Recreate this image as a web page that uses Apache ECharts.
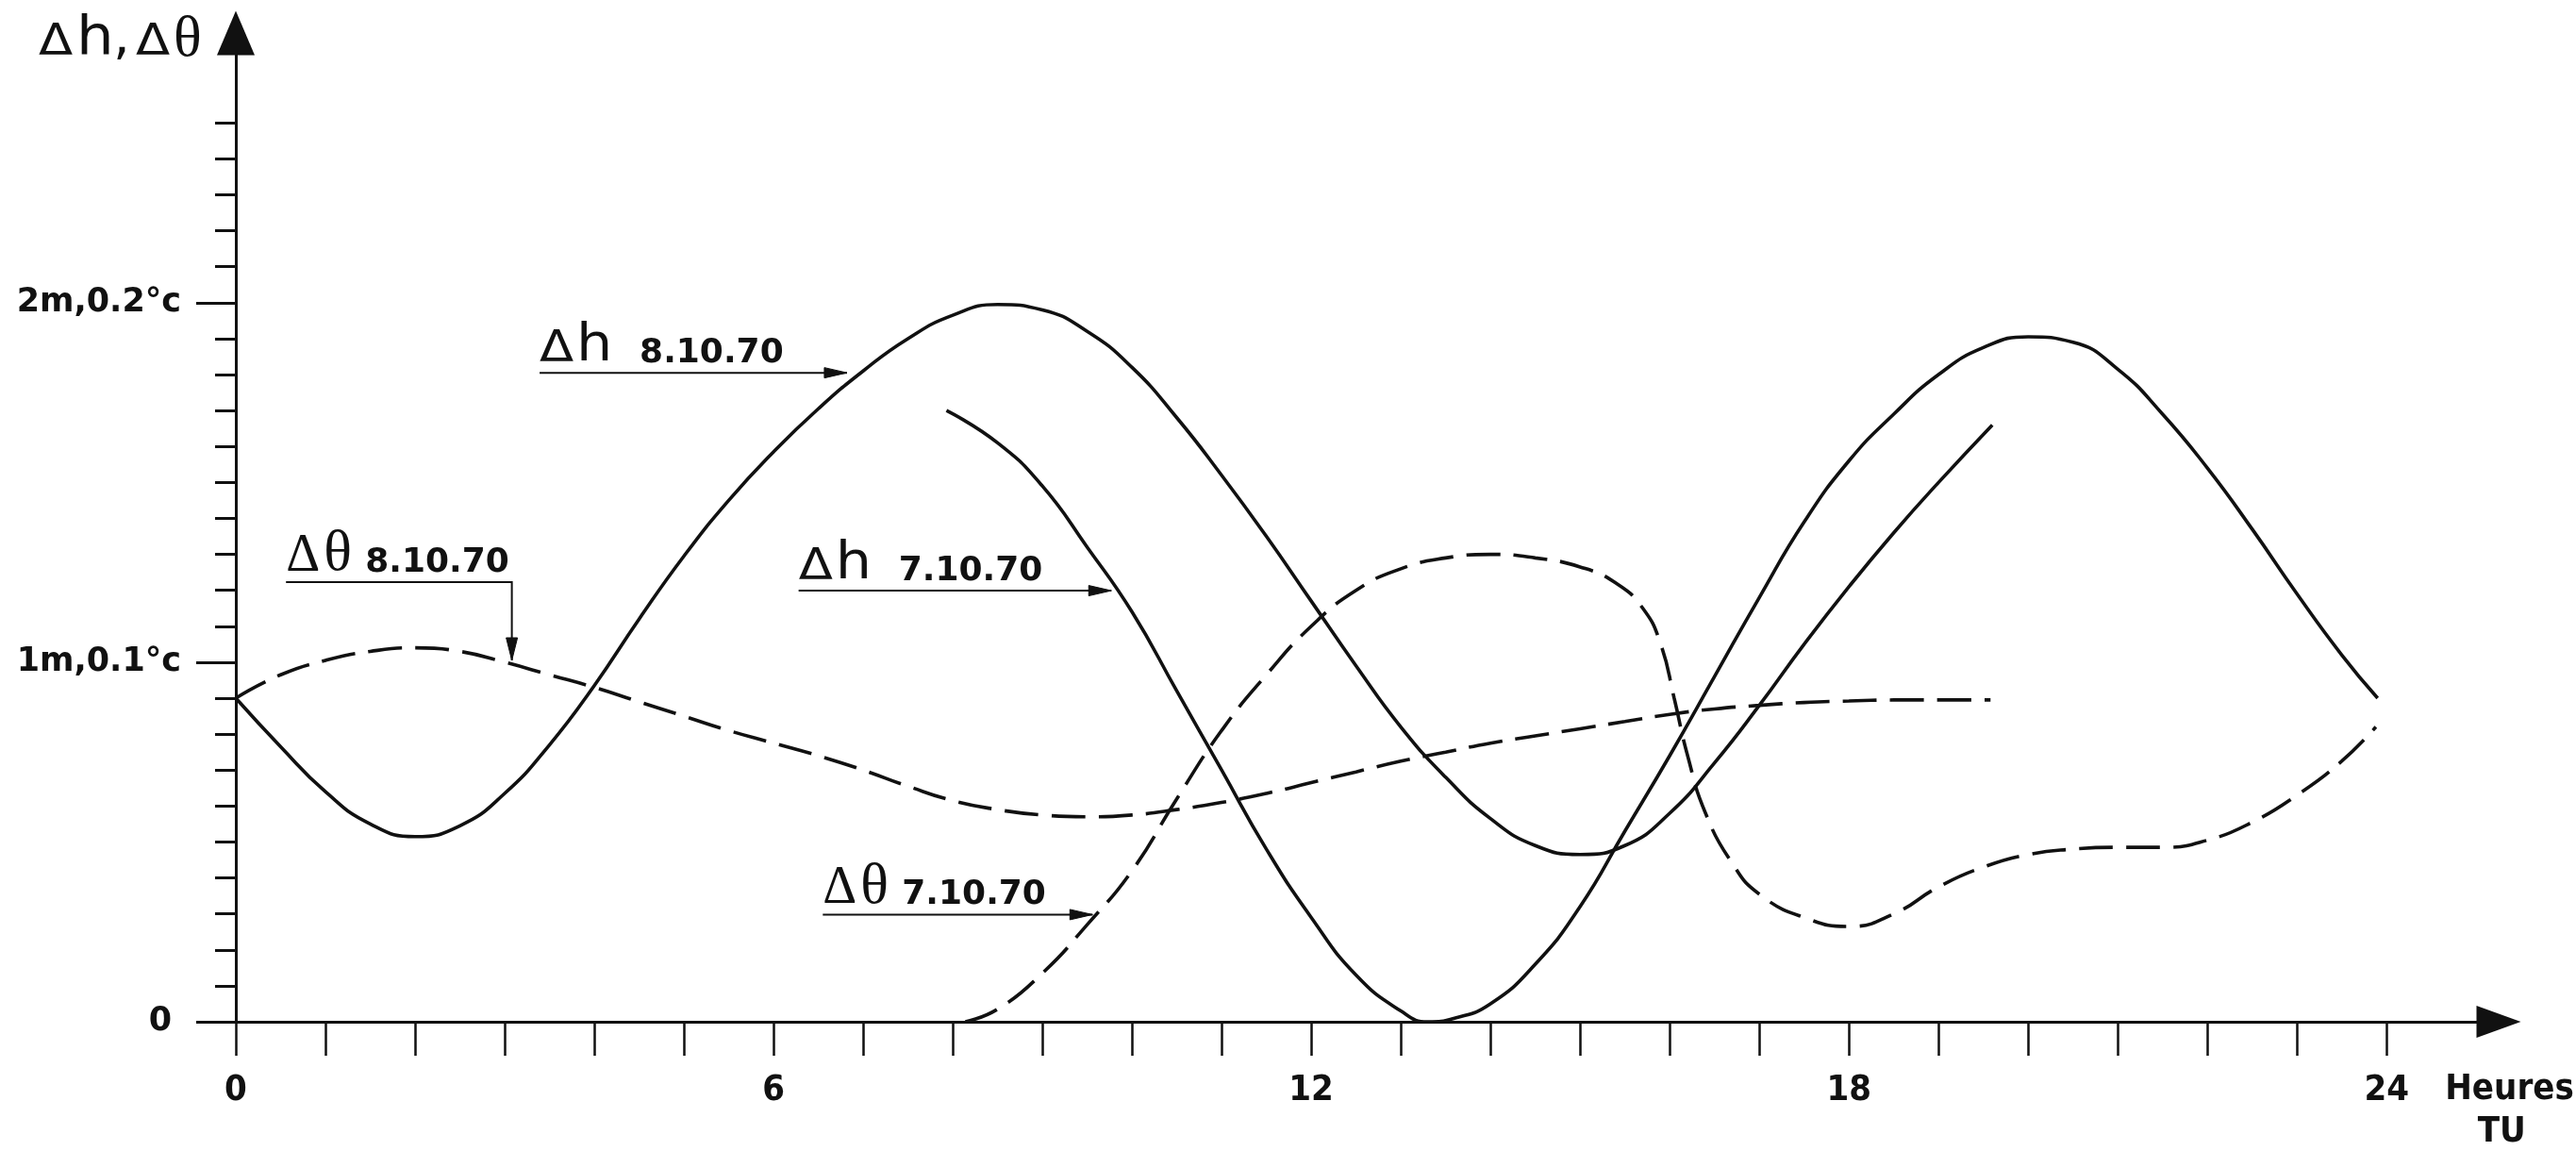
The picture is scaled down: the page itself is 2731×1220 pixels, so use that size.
<!DOCTYPE html>
<html>
<head>
<meta charset="utf-8">
<script src="https://cdn.jsdelivr.net/npm/echarts@6/dist/echarts.min.js"></script>
<style>
html,body{margin:0;padding:0;background:#fff;}
#c{width:2731px;height:1220px;}
</style>
</head>
<body>
<div id="c"></div>
<script>
// ---------------- DATA (hours TU, values in units of 1 m / 0.1 °C) ----------------
const dh8Hours  = [0, 0.5, 1.0, 1.5, 2.0, 2.5, 3.0, 3.5, 4.0, 4.5, 5.0, 5.5, 6.0, 6.5, 7.0, 7.5, 8.0, 8.5, 9.0, 9.5, 10.0, 10.5, 11.0, 11.5, 12.0, 12.5, 13.0, 13.5, 14.0, 14.5, 15.0, 15.5, 16.0, 16.5, 17.0, 17.5, 18.0, 18.5, 19.0, 19.6];
const dh8Values = [0.90, 0.765, 0.64, 0.55, 0.515, 0.545, 0.635, 0.77, 0.935, 1.12, 1.295, 1.45, 1.585, 1.705, 1.81, 1.90, 1.965, 1.995, 1.98, 1.92, 1.82, 1.68, 1.52, 1.35, 1.17, 0.99, 0.82, 0.68, 0.565, 0.49, 0.465, 0.49, 0.58, 0.72, 0.88, 1.05, 1.21, 1.36, 1.50, 1.66];

const dh7Hours  = [7.93, 8.5, 9.0, 9.5, 10.0, 10.5, 11.0, 11.5, 12.0, 12.5, 13.0, 13.3, 13.6, 14.0, 14.5, 15.0, 15.5, 16.0, 16.5, 17.0, 17.5, 18.0, 18.5, 19.0, 19.5, 20.0, 20.5, 21.0, 21.5, 22.0, 22.5, 23.0, 23.5, 23.9];
const dh7Values = [1.70, 1.61, 1.49, 1.32, 1.14, 0.92, 0.70, 0.48, 0.29, 0.13, 0.03, 0.0, 0.01, 0.05, 0.16, 0.32, 0.53, 0.74, 0.96, 1.18, 1.39, 1.56, 1.69, 1.80, 1.875, 1.905, 1.89, 1.815, 1.69, 1.54, 1.37, 1.19, 1.02, 0.90];

const dt8Hours  = [0, 0.5, 1.0, 1.5, 2.0, 2.5, 3.0, 3.5, 4.0, 4.5, 5.0, 5.5, 6.0, 6.5, 7.0, 7.5, 8.0, 8.5, 9.0, 9.5, 10.0, 10.5, 11.0, 11.5, 12.0, 12.5, 13.0, 13.5, 14.0, 14.5, 15.0, 15.5, 16.0, 16.5, 17.0, 17.5, 18.0, 18.5, 19.0, 19.58];
const dt8Values = [0.90, 0.965, 1.005, 1.03, 1.04, 1.03, 1.00, 0.965, 0.93, 0.89, 0.85, 0.81, 0.775, 0.74, 0.70, 0.655, 0.615, 0.59, 0.575, 0.57, 0.575, 0.59, 0.61, 0.635, 0.665, 0.695, 0.725, 0.75, 0.775, 0.795, 0.815, 0.835, 0.855, 0.87, 0.88, 0.888, 0.892, 0.895, 0.895, 0.895];

const dt7Hours  = [8.14, 8.5, 9.0, 9.5, 10.0, 10.5, 11.0, 11.5, 12.0, 12.5, 13.0, 13.5, 14.0, 14.5, 15.0, 15.4, 15.7, 15.9, 16.05, 16.2, 16.4, 16.7, 17.0, 17.5, 18.0, 18.5, 19.0, 19.5, 20.0, 20.5, 21.0, 21.5, 22.0, 22.5, 23.0, 23.5, 23.88];
const dt7Values = [0, 0.035, 0.135, 0.27, 0.42, 0.62, 0.81, 0.965, 1.10, 1.20, 1.26, 1.29, 1.30, 1.29, 1.265, 1.22, 1.15, 1.05, 0.90, 0.74, 0.58, 0.44, 0.355, 0.29, 0.265, 0.30, 0.375, 0.43, 0.465, 0.48, 0.485, 0.485, 0.505, 0.555, 0.63, 0.725, 0.82];

const xTickValues  = [0,1,2,3,4,5,6,7,8,9,10,11,12,13,14,15,16,17,18,19,20,21,22,23,24];
const xLabelValues = [0, 6, 12, 18, 24];
const yLabelValues = [0, 1, 2];
const yLabelTexts  = ['0', '1m,0.1°c', '2m,0.2°c'];
const yMinorTicks  = [0.1,0.2,0.3,0.4,0.5,0.6,0.7,0.8,0.9,1.1,1.2,1.3,1.4,1.5,1.6,1.7,1.8,1.9,2.1,2.2,2.3,2.4,2.5];

// ---------------- STYLE ----------------
const INK = '#111111';
const SANS = "'DejaVu Sans', 'Liberation Sans', sans-serif";
const SERIF = "'Liberation Serif', 'DejaVu Serif', serif";
const NARROW = "'Liberation Sans Narrow', 'DejaVu Sans Condensed', sans-serif";
const DASH = [36, 14];
// distance from the canvas 'middle' line to the alphabetic baseline (fraction of font size)
const MID = {sans: 0.346, serif: 0.3375};

const zip = (xs, ys) => xs.map((x, i) => [x, ys[i]]);

const chart = echarts.init(document.getElementById('c'), null, {renderer: 'canvas'});

function lineSeries(name, data, dashed) {
  return {
    name, type: 'line', data, showSymbol: false, smooth: 0.5,
    xAxisIndex: 0, yAxisIndex: 0, clip: false,
    lineStyle: {color: INK, width: 3.6, type: dashed ? DASH : 'solid', cap: 'butt'},
    emphasis: {disabled: true}, z: 5
  };
}

const option = {
  animation: false,
  backgroundColor: '#ffffff',
  grid: {left: 250, right: 82, top: 35, bottom: 137, containLabel: false, outerBoundsMode: 'none'},
  xAxis: {
    type: 'value', min: 0, max: 25.25,
    axisLine: {show: true, onZero: false, symbol: ['none', 'triangle'], symbolSize: [34, 47],
      lineStyle: {color: INK, width: 3}},
    axisTick: {show: true, customValues: xTickValues, length: 36, lineStyle: {color: INK, width: 2.5}},
    axisLabel: {show: true, customValues: xLabelValues, margin: 54, color: INK,
      fontFamily: NARROW, fontWeight: 'bold', fontSize: 38},
    splitLine: {show: false}
  },
  yAxis: [
    {
      type: 'value', min: 0, max: 2.75, position: 'left',
      axisLine: {show: true, onZero: false, symbol: ['none', 'triangle'], symbolSize: [40, 47],
        lineStyle: {color: INK, width: 3}},
      axisTick: {show: true, customValues: yLabelValues, length: 42, lineStyle: {color: INK, width: 3}},
      axisLabel: {
        show: true, customValues: yLabelValues, margin: 58, color: INK,
        fontFamily: SANS, fontWeight: 'bold', fontSize: 35,
        formatter: v => {
          const i = yLabelValues.indexOf(v);
          if (i === 0) return '{z|' + yLabelTexts[0] + '}';
          return i >= 0 ? yLabelTexts[i] : '';
        },
        rich: {z: {fontFamily: SANS, fontWeight: 'bold', fontSize: 35, color: INK, padding: [0, 10, 0, 0]}}
      },
      splitLine: {show: false}
    },
    {
      type: 'value', min: 0, max: 2.75, position: 'left', offset: 0,
      axisLine: {show: false},
      axisTick: {show: true, customValues: yMinorTicks, length: 22, lineStyle: {color: INK, width: 3}},
      axisLabel: {show: false},
      splitLine: {show: false}
    }
  ],
  series: [
    lineSeries('Δh 8.10.70', zip(dh8Hours, dh8Values), false),
    lineSeries('Δh 7.10.70', zip(dh7Hours, dh7Values), false),
    lineSeries('Δθ 8.10.70', zip(dt8Hours, dt8Values), true),
    lineSeries('Δθ 7.10.70', zip(dt7Hours, dt7Values), true)
  ]
};
chart.setOption(option);

// ---------------- TEXT HELPERS ----------------
function piece(str, x, baseline, family, size, weight, mid, scaleX) {
  return {
    type: 'text', x: x, y: baseline + (0.5 - mid) * size, scaleX: scaleX || 1, originX: 0, originY: 0,
    z: 10, silent: true,
    style: {x: 0, y: 0, text: str, fontFamily: family, fontSize: size, fontWeight: weight || 'normal',
      fill: INK, align: 'left', verticalAlign: 'bottom'}
  };
}

// ---------------- ANNOTATIONS (anchored in data coordinates) ----------------
const annotations = [
  {sym: 'h', date: '8.10.70', from: [3.39, 1.805], to: [6.82, 1.805]},
  {sym: 'h', date: '7.10.70', from: [6.28, 1.199], to: [9.77, 1.199]},
  {sym: 't', date: '7.10.70', from: [6.55, 0.298], to: [9.56, 0.298]},
  {sym: 't', date: '8.10.70', from: [0.56, 1.223], to: [3.08, 1.223], down: 1.005}
];
const P = (pt) => chart.convertToPixel({xAxisIndex: 0, yAxisIndex: 0}, pt);

const graphics = [];
annotations.forEach(a => {
  const s = P(a.from), e = P(a.to);
  const pts = [s, e];
  let tip, head;
  if (a.down != null) {
    tip = P([a.to[0], a.down]);
    pts.push(tip);
    head = [[tip[0], tip[1]], [tip[0] - 6, tip[1] - 24], [tip[0] + 6, tip[1] - 24]];
  } else {
    tip = e;
    head = [[tip[0], tip[1]], [tip[0] - 24, tip[1] - 5.5], [tip[0] - 24, tip[1] + 5.5]];
  }
  graphics.push({type: 'polyline', shape: {points: pts}, style: {stroke: INK, lineWidth: 2, fill: null}, z: 10, silent: true});
  graphics.push({type: 'polygon', shape: {points: head}, style: {fill: INK, stroke: INK, lineWidth: 1}, z: 10, silent: true});
  const bl = s[1] - 8;
  if (a.sym === 'h') {
    graphics.push(piece('Δ', s[0], bl, SANS, 46, 'normal', MID.sans, 1.15));
    graphics.push(piece('h', s[0] + 39, bl, SANS, 55, 'normal', MID.sans, 1.1));
    graphics.push(piece(a.date, s[0] + 106, bl, SANS, 36, 'bold', MID.sans));
  } else {
    graphics.push(piece('Δ', s[0], bl, SERIF, 56, 'normal', MID.serif));
    graphics.push(piece('θ', s[0] + 40, bl, SERIF, 62, 'normal', MID.serif));
    graphics.push(piece(a.date, s[0] + 84, bl, SANS, 36, 'bold', MID.sans));
  }
});

// axis title "Δh,Δθ" and unit "Heures TU"
const p24 = P([24, 0]);
graphics.push(piece('Δ', 41, 62, SANS, 46, 'normal', MID.sans, 1.15));
graphics.push(piece('h', 81, 62, SANS, 57, 'normal', MID.sans, 1.1));
graphics.push(piece(',', 120, 62, SANS, 56, 'normal', MID.sans));
graphics.push(piece('Δ', 144, 62, SANS, 46, 'normal', MID.sans, 1.15));
graphics.push(piece('θ', 184, 64, SERIF, 62, 'normal', MID.serif));
graphics.push({type: 'text', z: 10, silent: true,
  style: {x: p24[0] + 62, y: 1155, text: 'Heures', align: 'left', verticalAlign: 'middle',
    fontFamily: NARROW, fontWeight: 'bold', fontSize: 38, fill: INK}});
graphics.push({type: 'text', z: 10, silent: true,
  style: {x: p24[0] + 122, y: 1200, text: 'TU', align: 'center', verticalAlign: 'middle',
    fontFamily: NARROW, fontWeight: 'bold', fontSize: 38, fill: INK}});

chart.setOption({graphic: {elements: graphics}});
</script>
</body>
</html>
